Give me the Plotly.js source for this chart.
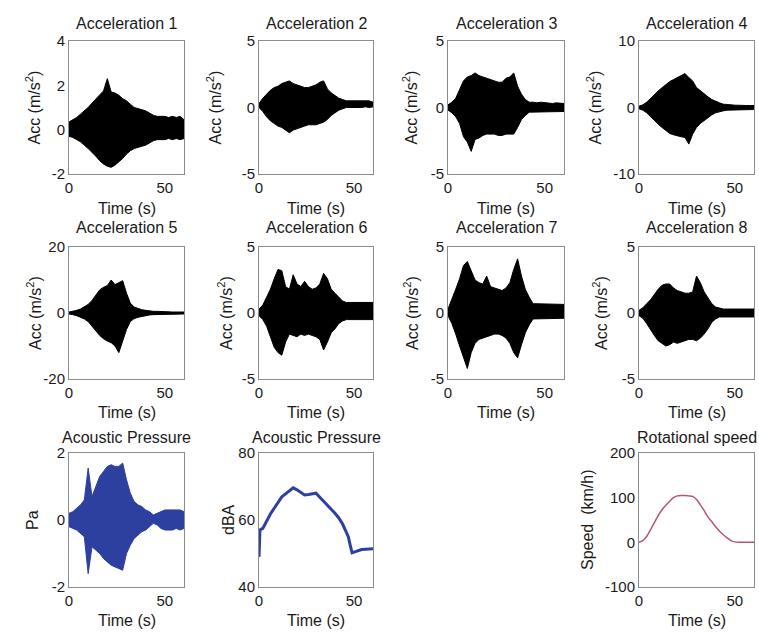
<!DOCTYPE html>
<html>
<head>
<meta charset="utf-8">
<script src="https://cdn.plot.ly/plotly-3.0.1.min.js"></script>
<style>html,body{margin:0;padding:0;background:#fff;}#chart{width:759px;height:633px;}</style>
</head>
<body>
<div id="chart"></div>
<script>
// ---- data ----
const time = [0,2,4,6,8,10,12,14,16,18,20,22,24,26,28,30,32,34,36,38,40,42,44,46,48,50,52,54,56,58,60];

const acc1Upper = [0.35,0.45,0.55,0.7,0.85,1.0,1.2,1.4,1.6,1.75,2.3,1.7,1.65,1.55,1.4,1.3,1.15,1.0,0.95,0.9,0.85,0.75,0.65,0.6,0.6,0.6,0.55,0.6,0.55,0.6,0.45];
const acc1Lower = [-0.3,-0.35,-0.45,-0.55,-0.7,-0.85,-1.0,-1.2,-1.4,-1.55,-1.65,-1.7,-1.6,-1.45,-1.3,-1.1,-0.95,-0.85,-0.8,-0.75,-0.7,-0.6,-0.5,-0.45,-0.45,-0.45,-0.4,-0.45,-0.4,-0.45,-0.4];

const acc2Upper = [0.3,0.7,1.0,1.3,1.5,1.6,1.8,1.9,2.0,1.8,1.7,1.6,1.5,1.5,1.6,1.7,1.9,2.0,1.4,1.1,0.9,0.7,0.6,0.5,0.5,0.5,0.5,0.5,0.45,0.5,0.4];
const acc2Lower = [0.0,-0.3,-0.7,-1.0,-1.2,-1.4,-1.5,-1.7,-1.9,-1.7,-1.6,-1.5,-1.4,-1.3,-1.3,-1.3,-1.2,-1.1,-0.9,-0.6,-0.4,-0.2,-0.1,0.0,-0.05,0.0,0.0,0.0,0.05,0.0,0.05];

const acc3Upper = [0.2,0.4,0.7,1.3,2.0,2.3,2.4,2.6,2.4,2.3,2.2,2.1,2.0,1.9,1.9,2.2,2.3,2.6,1.6,1.0,0.6,0.4,0.4,0.35,0.4,0.35,0.35,0.3,0.35,0.3,0.3];
const acc3Lower = [-0.2,-0.4,-0.7,-1.2,-2.2,-2.6,-3.3,-2.4,-2.3,-2.1,-2.0,-2.0,-2.0,-2.1,-2.1,-2.0,-2.0,-2.0,-1.5,-0.9,-0.6,-0.35,-0.3,-0.3,-0.3,-0.3,-0.3,-0.3,-0.3,-0.3,-0.3];

const acc4Upper = [0.2,0.4,0.8,1.3,1.9,2.5,3.0,3.5,3.9,4.2,4.5,4.7,5.1,4.5,4.0,3.0,2.5,2.0,1.6,1.2,0.9,0.7,0.5,0.4,0.4,0.35,0.3,0.3,0.3,0.3,0.3];
const acc4Lower = [-0.2,-0.4,-0.8,-1.3,-1.9,-2.5,-3.0,-3.5,-3.9,-4.1,-4.3,-4.4,-4.5,-5.5,-4.0,-3.0,-2.4,-1.9,-1.5,-1.1,-0.8,-0.6,-0.5,-0.4,-0.35,-0.3,-0.3,-0.3,-0.3,-0.3,-0.3];

const acc5Upper = [0.3,0.5,0.8,1.2,1.8,2.6,3.8,5.5,7.0,7.8,8.3,10.0,8.6,9.2,9.8,6.0,3.0,1.8,1.3,1.0,0.8,0.6,0.5,0.5,0.4,0.4,0.35,0.3,0.3,0.3,0.3];
const acc5Lower = [-0.3,-0.5,-0.8,-1.2,-1.8,-2.6,-3.8,-5.3,-6.8,-7.8,-8.5,-9.0,-10.0,-12.0,-8.5,-5.0,-2.6,-1.7,-1.3,-1.0,-0.8,-0.6,-0.5,-0.5,-0.4,-0.4,-0.35,-0.3,-0.3,-0.3,-0.3];

const acc6Upper = [0.3,0.6,1.2,1.8,2.6,3.3,3.2,2.0,1.8,2.9,2.2,2.0,2.4,2.0,1.8,1.9,2.2,3.0,2.6,1.8,1.5,1.2,0.9,0.8,0.8,0.8,0.8,0.8,0.8,0.8,0.8];
const acc6Lower = [-0.2,-0.5,-1.0,-1.8,-2.6,-3.0,-3.2,-2.2,-1.6,-1.7,-1.8,-1.6,-1.7,-1.6,-1.7,-1.8,-2.0,-2.8,-2.2,-1.5,-1.2,-0.8,-0.6,-0.5,-0.5,-0.5,-0.5,-0.5,-0.5,-0.5,-0.5];

const acc7Upper = [0.3,1.0,1.8,2.6,3.6,3.9,3.2,2.5,2.3,2.2,2.8,2.0,1.9,1.8,1.7,1.9,2.3,3.3,4.1,2.8,1.8,1.2,0.7,0.7,0.7,0.7,0.65,0.7,0.65,0.7,0.65];
const acc7Lower = [-0.2,-0.8,-1.6,-2.5,-3.4,-4.2,-3.0,-2.3,-2.0,-1.9,-1.8,-1.7,-1.6,-1.6,-1.7,-1.9,-2.3,-3.0,-3.4,-2.4,-1.5,-0.9,-0.45,-0.4,-0.4,-0.4,-0.4,-0.4,-0.4,-0.4,-0.4];

const acc8Upper = [0.2,0.4,0.7,1.0,1.4,1.8,2.1,2.2,2.2,1.9,1.7,1.6,1.5,1.5,1.6,2.8,2.3,1.6,1.1,0.7,0.45,0.35,0.3,0.3,0.3,0.3,0.3,0.3,0.3,0.3,0.3];
const acc8Lower = [-0.2,-0.4,-0.8,-1.2,-1.7,-2.1,-2.3,-2.5,-2.4,-2.2,-2.3,-2.2,-2.1,-2.0,-2.0,-2.1,-1.9,-1.6,-1.2,-0.7,-0.45,-0.3,-0.3,-0.3,-0.3,-0.3,-0.3,-0.3,-0.3,-0.3,-0.3];

const paUpper = [0.2,0.25,0.35,0.45,0.6,1.55,0.7,1.0,1.3,1.45,1.6,1.65,1.6,1.6,1.7,1.2,0.8,0.55,0.45,0.4,0.3,0.25,0.15,0.2,0.25,0.3,0.3,0.3,0.3,0.3,0.25];
const paLower = [-0.2,-0.25,-0.3,-0.4,-0.5,-1.6,-0.8,-0.9,-1.0,-1.15,-1.25,-1.35,-1.4,-1.45,-1.5,-1.0,-0.75,-0.55,-0.45,-0.35,-0.3,-0.2,-0.1,-0.15,-0.25,-0.3,-0.3,-0.3,-0.25,-0.3,-0.25];

const dbaTime = [0,0.5,2,4,6,8,10,12,14,16,18,20,22,24,26,28,30,32,34,36,38,40,42,44,46,47,48,49,50,52,54,56,58,60];
const dbaLevel = [49,57,57.5,59.8,61.8,63.5,65.3,66.9,67.8,68.7,69.6,69,68.2,67.5,67.6,67.9,68,66.8,65.5,64.3,63.2,62,60.6,58.8,56.5,55,52.5,50.2,50.4,50.9,51.2,51.3,51.3,51.4];

const speedKmh = [0,4,13,28,44,60,73,83,92,100,104,105,105,104,103,96,84,71,57,46,35,25,17,10,4,1,0,0,0,0,0];

const accTitles = ["Acceleration 1","Acceleration 2","Acceleration 3","Acceleration 4","Acceleration 5","Acceleration 6","Acceleration 7","Acceleration 8"];
const accUpper = [acc1Upper,acc2Upper,acc3Upper,acc4Upper,acc5Upper,acc6Upper,acc7Upper,acc8Upper];
const accLower = [acc1Lower,acc2Lower,acc3Lower,acc4Lower,acc5Lower,acc6Lower,acc7Lower,acc8Lower];
const accYTicks = [[-2,0,2,4],[-5,0,5],[-5,0,5],[-10,0,10],[-20,0,20],[-5,0,5],[-5,0,5],[-5,0,5]];
const xTicks = [0,50];

// ---- layout geometry (pixels) ----
const W = 759, H = 633;
const colPx = [[69,184],[259,373],[448,564],[639,754]];
const rowPx = [[41,174],[247,379],[453,587]];
const yLabelX = [[34,215,411,595],[34,225,411,600],[32,228,null,587]];
const titleY = [23,228,437];
const xTitleY = [208,412,620];

const FONT = "Liberation Sans, Arial, Helvetica, sans-serif";
const TXT = "#1a1a1a";
const px2x = p => p / W;
const px2y = p => 1 - p / H;

const traces = [];
const layout = {
  width: W, height: H,
  margin: {l:0, r:0, t:0, b:0},
  paper_bgcolor: "#ffffff", plot_bgcolor: "#ffffff",
  showlegend: false,
  font: {family: FONT, size: 15, color: TXT},
  annotations: []
};

function envelope(tArr, up, lo) {
  const xs = tArr.concat(tArr.slice().reverse());
  const ys = up.concat(lo.slice().reverse());
  return {xs, ys};
}

function addAxes(idx, row, col, yrange, yticks, title, ylab) {
  const xa = idx === 1 ? "xaxis" : "xaxis" + idx;
  const ya = idx === 1 ? "yaxis" : "yaxis" + idx;
  const common = {
    showline: true, mirror: true, linecolor: "#8c8c8c", linewidth: 1,
    showgrid: false, zeroline: false, ticks: "", fixedrange: true,
    tickfont: {family: FONT, size: 15, color: TXT}
  };
  layout[xa] = Object.assign({}, common, {
    domain: [px2x(colPx[col][0]), px2x(colPx[col][1])],
    anchor: "y" + (idx === 1 ? "" : idx),
    range: [0, 60], tickvals: xTicks, ticktext: xTicks.map(String)
  });
  layout[ya] = Object.assign({}, common, {
    domain: [px2y(rowPx[row][1]), px2y(rowPx[row][0])],
    anchor: "x" + (idx === 1 ? "" : idx),
    range: yrange, tickvals: yticks, ticktext: yticks.map(String)
  });
  const cx = (colPx[col][0] + colPx[col][1]) / 2;
  layout.annotations.push({
    xref: "paper", yref: "paper", x: px2x(cx), y: px2y(titleY[row]),
    xanchor: "center", yanchor: "middle", showarrow: false,
    text: title, font: {family: FONT, size: 16, color: TXT}
  });
  layout.annotations.push({
    xref: "paper", yref: "paper", x: px2x(cx), y: px2y(xTitleY[row]),
    xanchor: "center", yanchor: "middle", showarrow: false,
    text: "Time (s)", font: {family: FONT, size: 16, color: TXT}
  });
  layout.annotations.push({
    xref: "paper", yref: "paper", x: px2x(yLabelX[row][col]),
    y: px2y((rowPx[row][0] + rowPx[row][1]) / 2),
    xanchor: "center", yanchor: "middle", showarrow: false, textangle: -90,
    text: ylab, font: {family: FONT, size: 16, color: TXT}
  });
  return {x: "x" + (idx === 1 ? "" : idx), y: "y" + (idx === 1 ? "" : idx)};
}

// eight acceleration panels
for (let i = 0; i < 8; i++) {
  const row = Math.floor(i / 4), col = i % 4;
  const yt = accYTicks[i];
  const ax = addAxes(i + 1, row, col, [yt[0], yt[yt.length - 1]], yt, accTitles[i], "Acc (m/s<sup>2</sup>)");
  const e = envelope(time, accUpper[i], accLower[i]);
  traces.push({
    type: "scatter", mode: "lines", x: e.xs, y: e.ys, xaxis: ax.x, yaxis: ax.y,
    fill: "toself", fillcolor: "#000000", line: {color: "#000000", width: 1}, hoverinfo: "skip"
  });
}

// acoustic pressure (Pa)
{
  const ax = addAxes(9, 2, 0, [-2, 2], [-2, 0, 2], "Acoustic Pressure", "Pa");
  const e = envelope(time, paUpper, paLower);
  traces.push({
    type: "scatter", mode: "lines", x: e.xs, y: e.ys, xaxis: ax.x, yaxis: ax.y,
    fill: "toself", fillcolor: "#2d3f9f", line: {color: "#2d3f9f", width: 1}, hoverinfo: "skip"
  });
}
// acoustic pressure (dBA)
{
  const ax = addAxes(10, 2, 1, [40, 80], [40, 60, 80], "Acoustic Pressure", "dBA");
  traces.push({
    type: "scatter", mode: "lines", x: dbaTime, y: dbaLevel, xaxis: ax.x, yaxis: ax.y,
    line: {color: "#2d3f9f", width: 3}, hoverinfo: "skip"
  });
}
// rotational speed
{
  const ax = addAxes(11, 2, 3, [-100, 200], [-100, 0, 100, 200], "Rotational speed", "Speed  (km/h)");
  traces.push({
    type: "scatter", mode: "lines", x: time, y: speedKmh, xaxis: ax.x, yaxis: ax.y,
    line: {color: "#b4586c", width: 1.5, shape: "spline", smoothing: 0.6}, hoverinfo: "skip"
  });
}

Plotly.newPlot("chart", traces, layout, {staticPlot: true, displayModeBar: false});
</script>
</body>
</html>
